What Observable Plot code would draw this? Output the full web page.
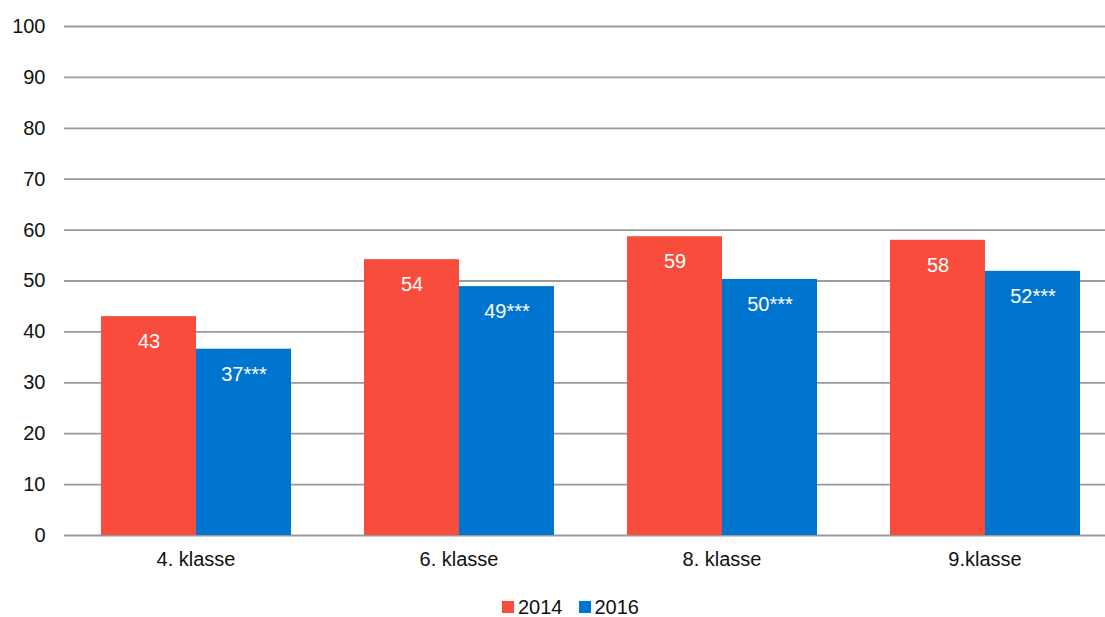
<!DOCTYPE html>
<html>
<head>
<meta charset="utf-8">
<script src="https://cdn.jsdelivr.net/npm/d3@7"></script>
<script src="https://cdn.jsdelivr.net/npm/@observablehq/plot@0.6"></script>
<style>
  html, body { margin: 0; padding: 0; background: #fff; overflow: hidden; }
  body { font-family: "Liberation Sans", Arial, sans-serif; width: 1105px; }
  #chart svg { max-width: none !important; display: block; }
  #legend { display: flex; align-items: center; height: 54px; padding-left: 502px; font-size: 20px; color: #111; }
  #legend .item { display: flex; align-items: center; margin-right: 16px; }
  #legend .sw { width: 12px; height: 12px; margin-right: 4px; }
</style>
</head>
<body>
<div id="chart"></div>
<div id="legend"></div>
<script>
const categories = ["4. klasse", "6. klasse", "8. klasse", "9.klasse"];
const years = ["2014", "2016"];
const values2014 = [43.0, 54.2, 58.7, 58.0];
const values2016 = [36.6, 48.9, 50.3, 51.9];
const labels2014 = ["43", "54", "59", "58"];
const labels2016 = ["37***", "49***", "50***", "52***"];
const yTicks = [0, 10, 20, 30, 40, 50, 60, 70, 80, 90, 100];
const colors = ["#F84D3C", "#0075CF"];

const data = [];
categories.forEach((c, i) => {
  data.push({cat: c, year: years[0], value: values2014[i], label: labels2014[i]});
  data.push({cat: c, year: years[1], value: values2016[i], label: labels2016[i]});
});

const chart = Plot.plot({
  width: 1116,
  height: 580,
  marginLeft: 63,
  marginRight: 0,
  marginTop: 26,
  marginBottom: 45,
  style: {fontFamily: "'Liberation Sans', Arial, sans-serif", fontSize: "20px", color: "#111", background: "#fff", maxWidth: "none"},
  fx: {domain: categories, paddingInner: 0, paddingOuter: 0, label: null},
  x: {domain: years, paddingInner: 0, paddingOuter: 0.384, axis: null},
  y: {domain: [0, 100], label: null},
  color: {domain: years, range: colors},
  marks: [
    Plot.ruleY(yTicks, {stroke: "#9a9a9a", strokeWidth: 1.8}),
    Plot.barY(data, {fx: "cat", x: "year", y: "value", fill: "year", inset: 0}),
    Plot.text(data, {fx: "cat", x: "year", y: "value", text: "label", fill: "white", dy: 25, lineAnchor: "middle", fontSize: 20}),
    Plot.axisY({ticks: yTicks, tickSize: 0, tickPadding: 19, label: null, fontSize: 20}),
    Plot.axisFx({anchor: "bottom", tickSize: 0, tickPadding: 16, label: null, fontSize: 20})
  ]
});
document.getElementById("chart").appendChild(chart);

const legend = document.getElementById("legend");
years.forEach((y, i) => {
  const item = document.createElement("div");
  item.className = "item";
  const sw = document.createElement("div");
  sw.className = "sw";
  sw.style.background = colors[i];
  const t = document.createElement("span");
  t.textContent = y;
  item.appendChild(sw);
  item.appendChild(t);
  legend.appendChild(item);
});
</script>
</body>
</html>
